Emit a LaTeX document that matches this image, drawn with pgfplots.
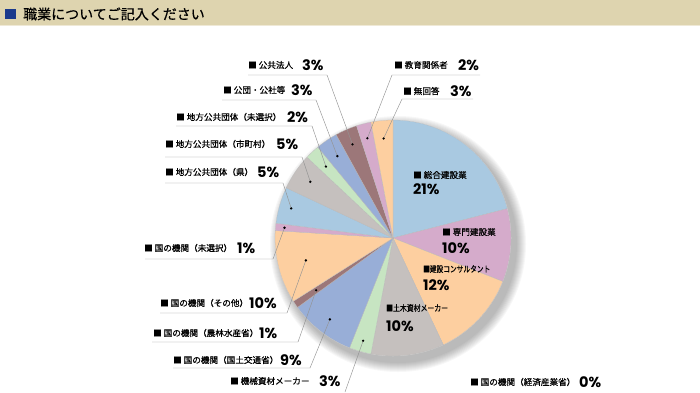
\documentclass[border=0pt]{standalone}
\usepackage{pgfplots}
\pgfplotsset{compat=1.18}
\usepackage{pgfplotstable}
\usepackage{etoolbox}
\usepackage{fontspec}
\setmainfont{Noto Sans CJK JP}
\newfontfamily\jpb{Noto Sans CJK JP}[FakeBold=0.6]
\newfontfamily\pct{Poppins}
\definecolor{cA}{HTML}{A9C9E1}
\definecolor{cB}{HTML}{D5ABCB}
\definecolor{cC}{HTML}{FDCFA0}
\definecolor{cD}{HTML}{C5C0BE}
\definecolor{cE}{HTML}{C7E5C2}
\definecolor{cF}{HTML}{98AED7}
\definecolor{cG}{HTML}{9C7779}
\definecolor{hdr}{HTML}{DED4AF}
\definecolor{hdrl}{HTML}{EFE9D6}
\definecolor{navy}{HTML}{1B3A8C}

% value = percent, dr = radius of the leader dot, lx/ly/ex = leader line (px, y from bottom)
\pgfplotstableread{
id value color dr lx ly ex
総合建設業 21 cA 0 0 0 0
専門建設業 10 cB 0 0 0 0
建設コンサルタント 12 cC 0 0 0 0
土木資材メーカー 10 cD 0 0 0 0
機械資材メーカー 3 cE 107 345 0 345
経済産業省 0 cA 0 0 0 0
国土交通省 9 cF 103 173 24 310
農林水産省 1 cG 93 152 50 298
国その他 10 cC 90 160 79 287
国未選択 1 cB 109 145 133 273
県 5 cA 106 165 209 283
市町村 5 cD 100 165 235 302
地方未選択 2 cE 98 176 266 312
公団公社等 3 cF 99 222 292 316
公共法人 3 cG 102 248 317 327
教育関係者 2 cB 103 480 317 392
無回答 3 cC 100 473 293 402
}\piedata

\pgfplotstablegetrowsof{\piedata}
\pgfmathtruncatemacro{\nrows}{\pgfplotsretval-1}
\gdef\cum{0}
\gdef\slices{}
\gdef\leaders{}
\foreach \i in {0,...,\nrows}{%
  \pgfplotstablegetelem{\i}{value}\of{\piedata}\let\val\pgfplotsretval
  \pgfplotstablegetelem{\i}{color}\of{\piedata}\let\sc\pgfplotsretval
  \pgfplotstablegetelem{\i}{dr}\of{\piedata}\let\dr\pgfplotsretval
  \pgfplotstablegetelem{\i}{lx}\of{\piedata}\let\lx\pgfplotsretval
  \pgfplotstablegetelem{\i}{ly}\of{\piedata}\let\ly\pgfplotsretval
  \pgfplotstablegetelem{\i}{ex}\of{\piedata}\let\ex\pgfplotsretval
  \pgfmathsetmacro{\angA}{90-3.6*\cum}%
  \pgfmathsetmacro{\angB}{90-3.6*(\cum+\val)}%
  \pgfmathsetmacro{\angM}{(\angA+\angB)/2}%
  \ifdim\val pt>0pt
    \xappto\slices{\noexpand\fill[\sc, draw=gray!55, line width=0.25pt] (axis cs:393,154) -- ++(\angA:118pt) arc[start angle=\angA, end angle=\angB, radius=118pt] -- cycle;}%
  \fi
  \ifdim\dr pt>0pt
    \xappto\leaders{\noexpand\draw[gray!85, line width=0.45pt] (axis cs:393,154) ++(\angM:\dr pt) -- (axis cs:\ex,\ly) -- (axis cs:\lx,\ly);
      \noexpand\fill[black] (axis cs:393,154) ++(\angM:\dr pt) circle[radius=1.3pt];}%
  \fi
  \pgfmathsetmacro{\newcum}{\cum+\val}%
  \xdef\cum{\newcum}%
}

\newcommand{\lab}[5]{%
  \node[anchor=west, inner sep=0pt, font=\jpb\fontsize{8.6}{10}\selectfont] at (axis cs:#1,#2) {■ #3};
  \node[anchor=west, inner sep=0pt, font=\pct\bfseries\fontsize{14.5}{14}\selectfont] at (axis cs:#4,#2) {#5\%};}
\newcommand{\inlab}[5]{%
  \node[anchor=west, inner sep=0pt, font=\jpb\fontsize{8.6}{10}\selectfont] at (axis cs:#1,#2) {#4};
  \node[anchor=west, inner sep=0pt, font=\pct\bfseries\fontsize{14.5}{14}\selectfont] at (axis cs:#1,#3) {#5\%};}

\begin{document}
\begin{tikzpicture}
\useasboundingbox (0pt,0pt) rectangle (700pt,392pt);
\begin{axis}[
  x=1pt, y=1pt, xmin=0, xmax=700, ymin=0, ymax=392,
  hide axis, clip=false, anchor=origin, at={(0pt,0pt)}]
% header
\fill[hdr] (axis cs:0,367) rectangle (axis cs:700,392);
\fill[hdrl] (axis cs:0,366) rectangle (axis cs:700,367.3);
\fill[navy] (axis cs:5,373) rectangle (axis cs:16,383);
\node[anchor=west, inner sep=0pt, font=\jpb\fontsize{14}{16}\selectfont] at (axis cs:23,378) {職業についてご記入ください};
% shadow
\pgfplotsinvokeforeach{0,...,9}{
  \fill[black, opacity=0.03] (axis cs:398,148) circle[radius={(119+#1)*1pt}];
}
\fill[white] (axis cs:393,154) circle[radius=118pt];
\slices
\leaders
% outside labels
\lab{248}{327}{公共法人}{302}{3}
\lab{223}{302}{公団・公社等}{291}{3}
\lab{176}{275}{地方公共団体（未選択）}{287}{2}
\lab{165}{248}{地方公共団体（市町村）}{276}{5}
\lab{165}{220}{地方公共団体（県）}{257}{5}
\lab{144}{144}{国の機関（未選択）}{237}{1}
\lab{160}{89}{国の機関（その他）}{249}{10}
\lab{153}{59}{国の機関（農林水産省）}{259}{1}
\lab{173}{32}{国の機関（国土交通省）}{280}{9}
\lab{230}{11}{機械資材メーカー}{319}{3}
\lab{470}{10}{国の機関（経済産業省）}{579}{0}
\lab{394}{327}{教育関係者}{458}{2}
\lab{403}{301}{無回答}{450}{3}
% inside labels
\inlab{413}{217}{203}{■ 総合建設業}{21}
\inlab{442}{160}{144}{■ 専門建設業}{10}
\inlab{423}{123}{107}{\scalebox{0.78}[1]{■建設コンサルタント}}{12}
\inlab{386}{84}{66}{\scalebox{0.8}[1]{■土木資材メーカー}}{10}
\end{axis}
\end{tikzpicture}
\end{document}
